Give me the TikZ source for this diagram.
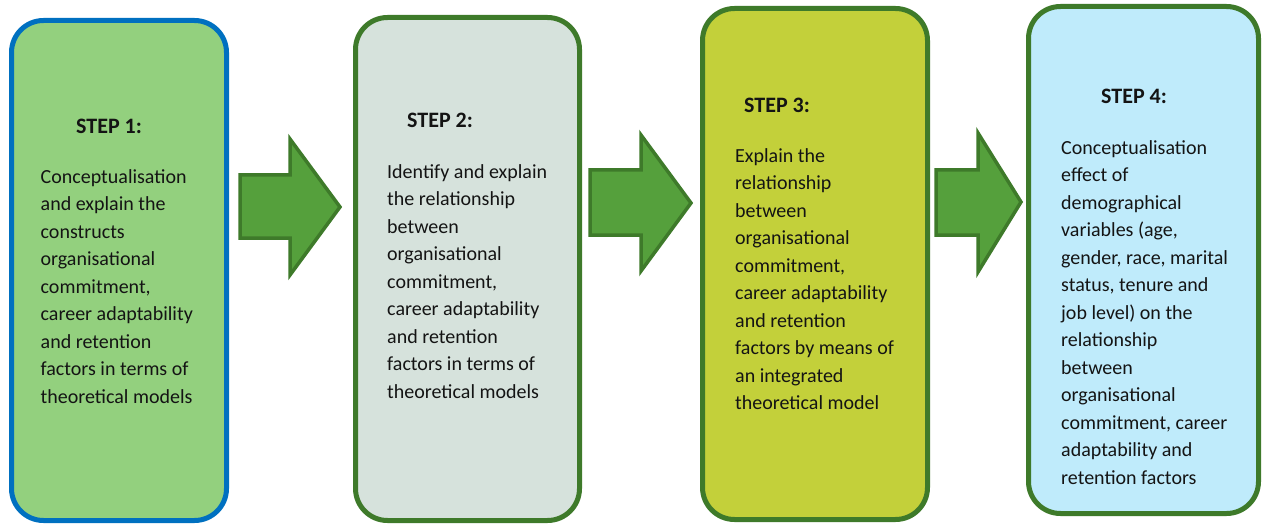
\documentclass[tikz,border=0pt]{standalone}
\usepackage{fontspec}
\setmainfont{Carlito}
\begin{document}
\definecolor{stepgreen}{RGB}{62,122,42}
\definecolor{stepblue}{RGB}{0,112,192}
\definecolor{fillone}{RGB}{147,208,126}
\definecolor{filltwo}{RGB}{214,226,220}
\definecolor{fillthree}{RGB}{195,208,58}
\definecolor{fillfour}{RGB}{191,235,251}
\definecolor{arrowfill}{RGB}{85,160,60}
\definecolor{inktext}{RGB}{20,20,20}
\begin{tikzpicture}[x=1pt,y=-1pt,
  stepbox/.style={draw=stepgreen, line width=5pt, rounded corners=32pt,
    inner sep=0pt, outer sep=0pt},
  blockarrow/.style={draw=stepgreen, fill=arrowfill, line width=3.5pt,
    line join=miter},
  heading/.style={anchor=base west, inner sep=0pt, text=inktext,
    font=\fontsize{22}{27.5}\selectfont\bfseries},
  % multi-line body text: positioned by the baseline of its last line
  body/.style={anchor=base west, inner sep=0pt, align=left, text=inktext,
    font=\fontsize{20}{27.5}\selectfont}]
\useasboundingbox (0,0) rectangle (1262,524);

% the four step boxes
\node[stepbox, draw=stepblue, fill=fillone, minimum width=215pt, minimum height=500pt]
  (box1) at (119,270.5) {};
\node[stepbox, fill=filltwo, minimum width=224pt, minimum height=503pt]
  (box2) at (467.5,269) {};
\node[stepbox, fill=fillthree, minimum width=225pt, minimum height=511pt]
  (box3) at (815,264) {};
\node[stepbox, fill=fillfour, minimum width=230pt, minimum height=507pt]
  (box4) at (1143.5,260) {};

% block arrows between the boxes
\draw[blockarrow] (240,175) -- (290,175) -- (290,139) -- (340,207)
  -- (290,275) -- (290,238) -- (240,238) -- cycle;
\draw[blockarrow] (590,170) -- (641,170) -- (641,135) -- (691,203)
  -- (641,271) -- (641,235) -- (590,235) -- cycle;
\draw[blockarrow] (936,170) -- (978,170) -- (978,133) -- (1021,202)
  -- (978,272) -- (978,235) -- (936,235) -- cycle;

% step 1
\node[heading] (h1) at (76,134) {STEP 1:};
\node[body] (t1) at (40.5,403) {Conceptualisation\\and explain the\\constructs\\organisational\\commitment,\\career adaptability\\and retention\\factors in terms of\\theoretical models};

% step 2
\node[heading] (h2) at (407,128) {STEP 2:};
\node[body] (t2) at (387,398) {Identify and explain\\the relationship\\between\\organisational\\commitment,\\career adaptability\\and retention\\factors in terms of\\theoretical models};

% step 3
\node[heading] (h3) at (744,113) {STEP 3:};
\node[body] (t3) at (735,409.5) {Explain the\\relationship\\between\\organisational\\commitment,\\career adaptability\\and retention\\factors by means of\\an integrated\\theoretical model};

% step 4
\node[heading] (h4) at (1101,104) {STEP 4:};
\node[body] (t4) at (1061,484) {Conceptualisation\\effect of\\demographical\\variables (age,\\gender, race, marital\\status, tenure and\\job level) on the\\relationship\\between\\organisational\\commitment, career\\adaptability and\\retention factors};
\end{tikzpicture}
\end{document}
